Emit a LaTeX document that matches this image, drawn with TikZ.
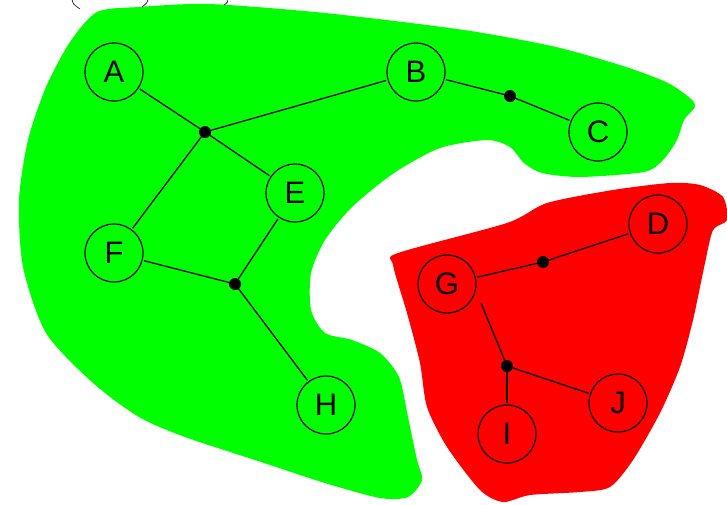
\documentclass[tikz,border=0pt]{standalone}
\usepackage{fontspec}
\setmainfont{Liberation Sans}
\definecolor{grn}{RGB}{0,255,0}
\definecolor{rd}{RGB}{255,0,0}
\begin{document}
\begin{tikzpicture}[x=1pt,y=-1pt,
  vnode/.style={circle,draw=black,line width=1.2pt,minimum size=58pt,inner sep=0pt,outer sep=2pt,
    font=\fontsize{31}{31}\selectfont},
  jdot/.style={circle,fill=black,minimum size=12pt,inner sep=0pt,outer sep=0pt},
  edge/.style={line width=1.3pt}]
\useasboundingbox (0,0) rectangle (727,504);
\clip (0,0) rectangle (727,504);
% regions
\fill[grn] plot[smooth cycle,tension=0.45] coordinates {
 (97,12) (139,7) (209,4) (325,13) (464,30) (556,47) (626,67) (668,83) (691,99) (695,107)
 (684,120) (677,140) (663,160) (644,172) (580,177) (542,173) (524,163) (510,147) (487,140)
 (440,148) (394,173) (352,207) (325,240) (311,273) (311,310) (325,333) (352,340) (380,353)
 (399,377) (408,417) (417,460) (422,480) (408,497) (380,498) (325,483) (255,460) (185,437)
 (139,417) (93,383) (46,333) (23,267) (19,200) (28,140) (46,87) (70,42)};
\fill[rd] plot[smooth cycle,tension=0.45] coordinates {
 (398,253) (507,223) (547,203) (613,190) (670,183) (700,185) (723,197) (727,220) (713,230)
 (705,263) (693,320) (680,367) (660,413) (633,460) (610,487) (580,492) (530,495) (503,502)
 (480,490) (447,447) (427,407) (420,363) (407,313) (393,265)};
% partial marks at top
\draw[line width=0.8pt,black!80] (72,-1) .. controls (73,4) .. (80,9);
\draw[line width=0.8pt,black!80] (148,-1) .. controls (147,3) .. (142,7);
\draw[line width=0.8pt,black!80] (228,-1) .. controls (228,2) .. (224,5);
% nodes
\node[vnode] (A) at (114,72) {A};
\node[vnode] (B) at (416,72) {B};
\node[vnode] (C) at (598,132) {C};
\node[vnode] (E) at (295,193) {E};
\node[vnode] (F) at (114,253) {F};
\node[vnode] (H) at (326,405) {H};
\node[vnode] (G) at (447,284) {G};
\node[vnode] (D) at (658,224) {D};
\node[vnode] (J) at (618,403) {J};
\node[vnode] (I) at (507,434) {I};
% junctions
\node[jdot] (j1) at (205,132) {};
\node[jdot] (j2) at (510,96) {};
\node[jdot] (j3) at (235,284) {};
\node[jdot] (j4) at (543,262) {};
\node[jdot] (j5) at (507,366) {};
\coordinate (g5) at (481,303);
% edges
\draw[edge] (A) -- (j1);
\draw[edge] (B) -- (j1);
\draw[edge] (E) -- (j1);
\draw[edge] (F) -- (j1);
\draw[edge] (B) -- (j2);
\draw[edge] (C) -- (j2);
\draw[edge] (E) -- (j3);
\draw[edge] (F) -- (j3);
\draw[edge] (H) -- (j3);
\draw[edge] (G) -- (j4);
\draw[edge] (D) -- (j4);
\draw[edge] (g5) -- (j5);
\draw[edge] (I) -- (j5);
\draw[edge] (J) -- (j5);
\end{tikzpicture}
\end{document}
